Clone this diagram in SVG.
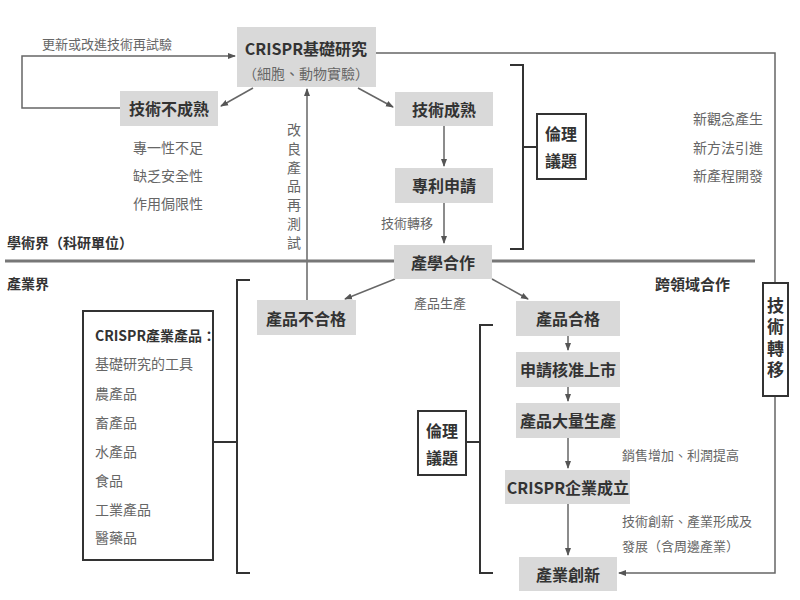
<svg xmlns="http://www.w3.org/2000/svg" width="800" height="600" viewBox="0 0 800 600">
<style>
text{font-family:"Noto Sans CJK TC","Noto Sans CJK SC",sans-serif;}
.box{fill:#d9d9d9;stroke:none;}
.lbl{font-size:16px;font-weight:bold;fill:#333;text-anchor:middle;dominant-baseline:central;}
.g{font-size:14px;fill:#666;dominant-baseline:central;}
.gs{font-size:13px;fill:#666;dominant-baseline:central;}
.sec{font-size:14px;font-weight:bold;fill:#333;dominant-baseline:central;}
.vt{writing-mode:vertical-rl;text-anchor:start;}
.c{fill:none;stroke:#666;stroke-width:1.5;}
.br{fill:none;stroke:#333;stroke-width:2;}
.ob{fill:#fff;stroke:#333;stroke-width:2;}
</style>
<defs>
<marker id="ah" markerUnits="userSpaceOnUse" markerWidth="8" markerHeight="8" viewBox="0 0 8 8" refX="7" refY="4" orient="auto">
<path d="M0,1 L8,4 L0,7 Z" fill="#555"/>
</marker>
</defs>
<rect width="800" height="600" fill="#fff"/>

<g id="connectors">
<path class="c" d="M120,108 H22 V56 H235" marker-end="url(#ah)"/>
<path class="c" d="M253,88 L221,106" marker-end="url(#ah)"/>
<path class="c" d="M358,88 L393,107" marker-end="url(#ah)"/>
<path class="c" d="M444,126 V166" marker-end="url(#ah)"/>
<path class="c" d="M444,203 V243" marker-end="url(#ah)"/>
<path class="c" d="M376,53 H775 V573 H619" marker-end="url(#ah)"/>
<path class="c" d="M307,300 V89" marker-end="url(#ah)"/>
<path class="c" d="M395,279 L345,299" marker-end="url(#ah)"/>
<path class="c" d="M492,279 L528,299" marker-end="url(#ah)"/>
<path class="c" d="M568,336 V350" marker-end="url(#ah)"/>
<path class="c" d="M568,387 V401" marker-end="url(#ah)"/>
<path class="c" d="M568,438 V468" marker-end="url(#ah)"/>
<path class="c" d="M568,504 V555" marker-end="url(#ah)"/>
</g>

<g id="divider">
<path d="M5,261 H394 M492,261 H755" stroke="#777" stroke-width="3" fill="none"/>
</g>

<g id="brackets">
<path class="br" d="M510,65 H523 V249 H510 M523,147 H537"/>
<path class="br" d="M493,325 H480 V573 H493 M480,442 H466"/>
<path class="br" d="M250,280 H237 V573 H250 M237,442 H213"/>
</g>

<g id="labels">
<text class="gs" x="42" y="43">更新或改進技術再試驗</text>
<text class="sec" x="7" y="242">學術界（科研單位）</text>
<text class="sec" x="7" y="283">產業界</text>
<text class="sec" x="655" y="283" style="font-size:15px">跨領域合作</text>
<text class="g" x="133" y="147">專一性不足</text>
<text class="g" x="133" y="175">缺乏安全性</text>
<text class="g" x="133" y="203">作用侷限性</text>
<text class="g" x="693" y="118">新觀念產生</text>
<text class="g" x="693" y="147">新方法引進</text>
<text class="g" x="693" y="175">新產程開發</text>
<text class="gs" x="381" y="222">技術轉移</text>
<text class="gs" x="414" y="302">產品生產</text>
<text class="gs" x="622" y="454">銷售增加、利潤提高</text>
<text class="gs" x="622" y="520">技術創新、產業形成及</text>
<text class="gs" x="622" y="545">發展（含周邊產業）</text>
<text x="294" y="123" style="font-size:14px;fill:#666;writing-mode:vertical-rl;letter-spacing:4.7px">改良產品再測試</text>
</g>

<g id="n-basic">
<rect class="box" x="237" y="27" width="139" height="60"/>
<text class="lbl" x="306" y="48">CRISPR基礎研究</text>
<text class="g" x="306" y="73" text-anchor="middle">（細胞、動物實驗）</text>
</g>
<g id="n-immature">
<rect class="box" x="120" y="91" width="98" height="35"/>
<text class="lbl" x="169" y="108">技術不成熟</text>
</g>
<g id="n-mature">
<rect class="box" x="395" y="92" width="98" height="34"/>
<text class="lbl" x="444" y="109">技術成熟</text>
</g>
<g id="n-patent">
<rect class="box" x="395" y="168" width="98" height="35"/>
<text class="lbl" x="444" y="185">專利申請</text>
</g>
<g id="n-coop">
<rect class="box" x="394" y="245" width="98" height="34"/>
<text class="lbl" x="443" y="262">產學合作</text>
</g>
<g id="n-ethics1">
<rect class="ob" x="537" y="114" width="49" height="65"/>
<text class="lbl" x="561" y="133">倫理</text>
<text class="lbl" x="561" y="160">議題</text>
</g>
<g id="n-transfer">
<rect class="ob" x="763" y="283" width="25" height="113"/>
<text x="775.5" y="297" style="font-size:17px;font-weight:bold;fill:#333;writing-mode:vertical-rl;letter-spacing:4.5px">技術轉移</text>
</g>
<g id="n-fail">
<rect class="box" x="257" y="300" width="99" height="35"/>
<text class="lbl" x="306" y="318">產品不合格</text>
</g>
<g id="n-pass">
<rect class="box" x="516" y="301" width="104" height="35"/>
<text class="lbl" x="568" y="318">產品合格</text>
</g>
<g id="n-approve">
<rect class="box" x="516" y="352" width="104" height="35"/>
<text class="lbl" x="568" y="369">申請核准上市</text>
</g>
<g id="n-mass">
<rect class="box" x="516" y="403" width="104" height="35"/>
<text class="lbl" x="568" y="420">產品大量生產</text>
</g>
<g id="n-company">
<rect class="box" x="505" y="470" width="125" height="34"/>
<text class="lbl" x="568" y="487">CRISPR企業成立</text>
</g>
<g id="n-innov">
<rect class="box" x="519" y="557" width="98" height="34"/>
<text class="lbl" x="568" y="574">產業創新</text>
</g>
<g id="n-ethics2">
<rect class="ob" x="418" y="411" width="48" height="64"/>
<text class="lbl" x="442" y="430">倫理</text>
<text class="lbl" x="442" y="457">議題</text>
</g>
<g id="n-products">
<rect class="ob" x="83" y="311" width="130" height="249"/>
<text class="sec" x="95" y="335">CRISPR產業產品：</text>
<text class="g" x="95" y="363">基礎研究的工具</text>
<text class="g" x="95" y="393">農產品</text>
<text class="g" x="95" y="422">畜產品</text>
<text class="g" x="95" y="451">水產品</text>
<text class="g" x="95" y="480">食品</text>
<text class="g" x="95" y="509">工業產品</text>
<text class="g" x="95" y="537">醫藥品</text>
</g>
</svg>
